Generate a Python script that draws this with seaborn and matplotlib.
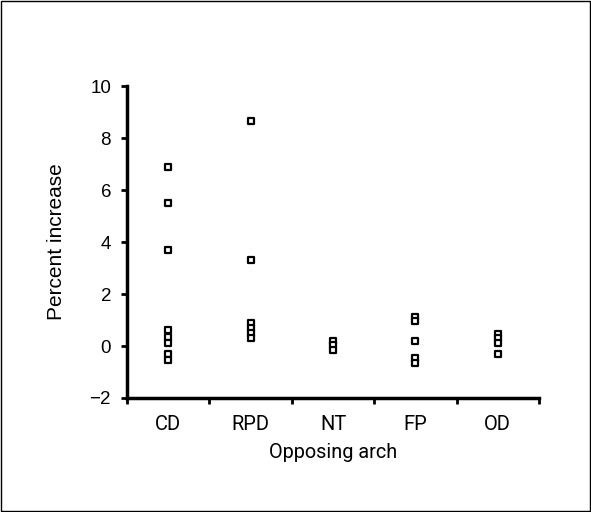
import pandas as pd
import numpy as np
import matplotlib
matplotlib.use('Agg')
import matplotlib.pyplot as plt
import seaborn as sns

# values
arches = ['CD', 'RPD', 'NT', 'FP', 'OD']
cd = [6.9, 5.5, 3.7, 0.6, 0.35, 0.1, -0.3, -0.55]
rpd = [8.65, 3.3, 0.9, 0.7, 0.5, 0.3]
nt = [0.2, 0.05, -0.15]
fp = [1.1, 0.95, 0.2, -0.45, -0.65]
od = [0.45, 0.3, 0.1, -0.3]
y_ticks = [-2, 0, 2, 4, 6, 8, 10]

groups = [cd, rpd, nt, fp, od]
df = pd.DataFrame({
    'arch': [a for a, vals in zip(arches, groups) for _ in vals],
    'pct': [v for vals in groups for v in vals],
})

sns.set_style('ticks')
plt.rcParams['font.family'] = ['Liberation Sans', 'DejaVu Sans']
for key in ['text.color', 'axes.labelcolor', 'xtick.color', 'ytick.color', 'axes.edgecolor']:
    plt.rcParams[key] = 'black'

fig = plt.figure(figsize=(5.91, 5.12), dpi=100)
ax = fig.add_axes([0.215, 0.2227, 0.697, 0.609])

sns.stripplot(data=df, x='arch', y='pct', order=arches, jitter=False,
              marker='s', size=4.8, color='white', edgecolor='black',
              linewidth=1.6, ax=ax)

ax.set_xlim(-0.5, 4.5)
ax.set_ylim(-2, 10)
ax.set_yticks(y_ticks)
ax.set_yticklabels(['\u22122' if t < 0 else str(t) for t in y_ticks])
ax.set_xticks(range(len(arches)))
ax.set_xticklabels(arches, family=['Roboto', 'DejaVu Sans'])
ax.set_xticks(np.arange(-0.5, 5, 1), minor=True)
ax.tick_params(axis='x', which='major', length=0, pad=12.5, labelsize=14.5)
ax.tick_params(axis='x', which='minor', length=4.5, width=2, direction='out')
ax.tick_params(axis='y', length=4.5, width=2, direction='out', labelsize=13.5, pad=7)

sns.despine(ax=ax)
for s in ['left', 'bottom']:
    ax.spines[s].set_linewidth(2.5)

ax.set_xlabel('Opposing arch', fontsize=14.3, labelpad=6.5, family=['Roboto', 'DejaVu Sans'])
ax.set_ylabel('Percent increase', fontsize=15, labelpad=17)

# thin frame around the whole figure
fig.patches.append(plt.Rectangle((0.002, 0.002), 0.996, 0.996, transform=fig.transFigure,
                                 fill=False, edgecolor='black', linewidth=1))

fig.savefig('out.png', dpi=100)
